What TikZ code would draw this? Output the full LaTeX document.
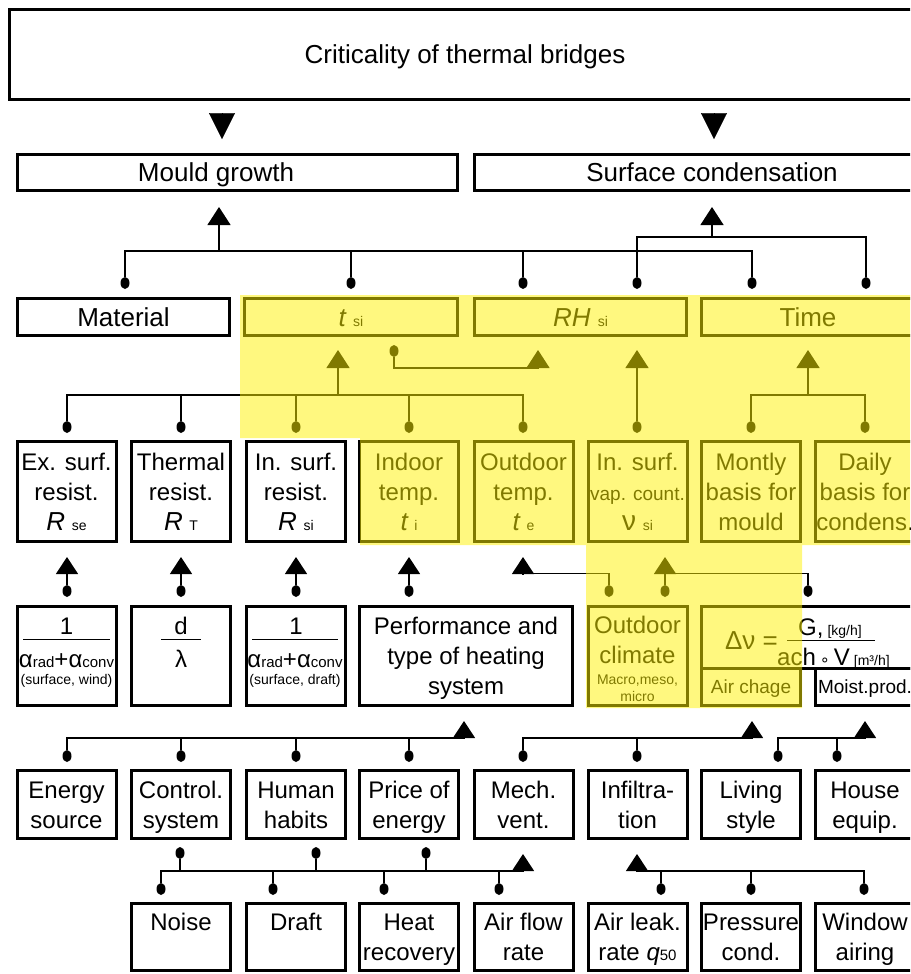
\documentclass[tikz,border=0pt]{standalone}
\usepackage{fontspec}
\setmainfont{Liberation Sans}
\newfontfamily\dvs{DejaVu Sans}
\usetikzlibrary{arrows.meta,shapes.geometric,calc}
\newcommand\fz[2]{\fontsize{#1}{#2}\selectfont}
\newcommand\Ls{\rule[-6.4pt]{0pt}{30pt}}
\newcommand\Lss{\rule[-3.5pt]{0pt}{17pt}}
\newcommand\sml[1]{{\fz{14}{14}#1}}
\newcommand\smb[1]{{\fz{15}{15}#1}}
\tikzset{
 bx/.style={draw, line width=3pt, inner sep=0pt, outer sep=0pt, align=center, font=\fz{24}{30}},
 t26/.style={font=\fz{26}{30}, text height=18.6pt, text depth=0pt},
 t19/.style={font=\fz{19}{22}, text height=13.6pt, text depth=0pt},
 tx24/.style={font=\fz{24}{30}, text height=17.2pt, text depth=0pt, inner sep=0pt},
 tx14/.style={font=\fz{14}{17}, inner sep=0pt, align=center},
 conn/.style={line width=1.3pt},
 rulel/.style={line width=1pt},
 dotn/.style={ellipse, fill=black, inner sep=0pt, outer sep=0pt, minimum width=9pt, minimum height=12pt},
 arrS/.style={-{Triangle[width=22pt,length=17pt]}},
 arrM/.style={-{Triangle[width=23pt,length=18pt]}},
 arrL/.style={-{Triangle[width=26pt,length=26pt]}},
}
\begin{document}
\begin{tikzpicture}[x=1pt,y=-1pt]
\path[use as bounding box] (0,0) rectangle (910,974);
\clip (0,0) rectangle (910,974);
\fill[white] (0,0) rectangle (910,974);

% ---------- top and row 1
\node[bx, t26, minimum width=911pt, minimum height=90pt] (top) at (465,54.5) {Criticality of thermal bridges};
\node[bx, line width=2.7pt, minimum width=440pt, minimum height=36.3pt] (mould) at (237.5,172.5) {};
\node[t26] (mouldt) at (216,172.5) {Mould growth};
\node[bx, t26, line width=2.7pt, minimum width=475pt, minimum height=36.3pt] (surf) at (712,172.5) {Surface condensation};

\coordinate (tA) at (222,0);
\coordinate (tB) at (714,0);
\draw[arrL, shorten <=13.5pt, shorten >=15.3pt] (top.south -| tA) -- (mould.north -| tA);
\draw[arrL, shorten <=13.5pt, shorten >=15.3pt] (top.south -| tB) -- (surf.north -| tB);

% ---------- row 2
\node[bx, t26, minimum width=212pt, minimum height=37pt] (mat) at (123.5,317) {Material};
\node[bx, t26, minimum width=213pt, minimum height=37pt] (tsi) at (351,317) {{\itshape t} \sml{si}};
\node[bx, t26, minimum width=212pt, minimum height=37pt] (rh) at (580.5,317) {{\itshape RH} \sml{si}};
\node[bx, t26, minimum width=213pt, minimum height=37pt] (time) at (808,317) {Time};

% ---------- row 4
\node[bx, minimum width=99pt, minimum height=100pt] (exs) at (66.5,491.5) {\Ls Ex. surf.\\\Ls resist.\\\Ls{\fz{26}{30}\itshape R} \sml{se}};
\node[bx, minimum width=99pt, minimum height=100pt] (thr) at (181,491.5) {\Ls Thermal\\\Ls resist.\\\Ls{\fz{26}{30}\itshape R} \sml{T}};
\node[bx, minimum width=99pt, minimum height=100pt] (ins) at (296,491.5) {\Ls In. surf.\\\Ls resist.\\\Ls{\fz{26}{30}\itshape R} \sml{si}};
\node[bx, minimum width=99pt, minimum height=100pt] (indt) at (409,491.5) {\Ls Indoor\\\Ls temp.\\\Ls{\fz{26}{30}\itshape t} \sml{i}};
\node[bx, minimum width=99pt, minimum height=100pt] (outt) at (523.5,491.5) {\Ls Outdoor\\\Ls temp.\\\Ls{\fz{26}{30}\itshape t} \sml{e}};
\node[bx, minimum width=99pt, minimum height=100pt] (nusi) at (637.5,491.5) {\Ls In. surf.\\\Ls{\fz{19}{30}vap. count.}\\\Ls{\fz{28}{30}ν} \sml{si}};
\node[bx, minimum width=99pt, minimum height=100pt] (mont) at (751,491.5) {\Ls Montly\\\Ls basis for\\\Ls mould};
\node[bx, minimum width=99pt, minimum height=100pt] (daily) at (865,491.5) {\Ls Daily\\\Ls basis for\\\Ls condens.};

% ---------- row 5
\node[bx, minimum width=99pt, minimum height=99pt] (f1) at (66.5,656) {};
\node[tx24] (f1n) at (66.5,626) {1};
\draw[rulel] (23,639) -- (110,639);
\node[tx24] (f1d) at (66.5,659) {α\smb{rad}+α\smb{conv}};
\node[tx14] (f1s) at (66.5,681) {(surface, wind)};

\node[bx, minimum width=99pt, minimum height=99pt] (f2) at (181,656) {};
\node[tx24] (f2n) at (181,626) {d};
\draw[rulel] (161,639) -- (201,639);
\node[tx24] (f2d) at (181,659) {λ};

\node[bx, minimum width=99pt, minimum height=99pt] (f3) at (296,656) {};
\node[tx24] (f3n) at (296,626) {1};
\draw[rulel] (252,639) -- (338,639);
\node[tx24] (f3d) at (295,659) {α\smb{rad}+α\smb{conv}};
\node[tx14] (f3s) at (295,681) {(surface, draft)};

\node[bx, minimum width=213pt, minimum height=99pt] (perf) at (466,656) {\Ls Performance and\\\Ls type of heating\\\Ls system};

\node[bx, minimum width=99pt, minimum height=99pt] (ocl) at (637.5,656) {};
\node[font=\fz{24}{30}, align=center, inner sep=0pt] (oclt) at (637.5,640) {\Ls Outdoor\\\Ls climate};
\node[tx14] (ocls) at (637.5,687.5) {\Lss Macro,meso,\\\Lss micro};

\node[bx, minimum width=213pt, minimum height=62pt] (dv) at (808,637.5) {};
\node[t26, inner sep=0pt] (dvl) at (751.5,640) {Δν =};
\draw[rulel] (787,640) -- (875,640);
\node[anchor=base west, font=\fz{24}{30}, inner sep=0pt] (dvn) at (798,635.6) {G,\,\sml{[kg/h]}};
\node[anchor=base west, font=\fz{24}{30}, inner sep=0pt] (dvd) at (777,665.6) {ach\,{\dvs\fz{16}{16}∘}\,V\,\sml{[m³/h]}};
\node[bx, t19, minimum width=99pt, minimum height=37pt] (ac) at (751,687) {Air chage};
\node[bx, t19, minimum width=99pt, minimum height=37pt] (mp) at (865,687) {Moist.prod.};

% ---------- row 6
\node[bx, minimum width=99pt, minimum height=68pt] (ener) at (66.5,804.5) {\Ls Energy\\\Ls source};
\node[bx, minimum width=99pt, minimum height=68pt] (ctrl) at (181,804.5) {\Ls Control.\\\Ls system};
\node[bx, minimum width=99pt, minimum height=68pt] (hum) at (296,804.5) {\Ls Human\\\Ls habits};
\node[bx, minimum width=99pt, minimum height=68pt] (price) at (409,804.5) {\Ls Price of\\\Ls energy};
\node[bx, minimum width=99pt, minimum height=68pt] (mech) at (523.5,804.5) {\Ls Mech.\\\Ls vent.};
\node[bx, minimum width=99pt, minimum height=68pt] (infil) at (637.5,804.5) {\Ls Infiltra-\\\Ls tion};
\node[bx, minimum width=99pt, minimum height=68pt] (liv) at (751,804.5) {\Ls Living\\\Ls style};
\node[bx, minimum width=99pt, minimum height=68pt] (house) at (865,804.5) {\Ls House\\\Ls equip.};

% ---------- row 7
\node[bx, minimum width=99pt, minimum height=67pt] (noise) at (181,937) {\Ls Noise\\\Ls};
\node[bx, minimum width=99pt, minimum height=67pt] (draft) at (296,937) {\Ls Draft\\\Ls};
\node[bx, minimum width=99pt, minimum height=67pt] (heat) at (409,937) {\Ls Heat\\\Ls recovery};
\node[bx, minimum width=99pt, minimum height=67pt] (afr) at (523.5,937) {\Ls Air flow\\\Ls rate};
\node[bx, minimum width=99pt, minimum height=67pt] (alr) at (637.5,937) {\Ls Air leak.\\\Ls rate {\itshape q}\smb{50}};
\node[bx, minimum width=99pt, minimum height=67pt] (pres) at (751,937) {\Ls Pressure\\\Ls cond.};
\node[bx, minimum width=99pt, minimum height=67pt] (win) at (865,937) {\Ls Window\\\Ls airing};

% ---------- dots
\foreach \n/\x/\y in {m1/125/283, m2/351/283, m3/523/283, m4/752/283, s1/637/283, s2/866/283,
  q1/394/351,
  a1/67/427, a2/181/427, a3/296/427, a4/409/427, a5/523/427, a6/637/427, a7/751/427, a8/865/427,
  b1/67/591, b2/181/591, b3/296/591, b4/409/591, b5/609/591, b6/665/591, b7/808/591,
  c1/67/756, c2/181/756, c3/296/756, c4/409/756, c5/523/756, c6/637/756, c7/778/756, c8/837/756,
  e1/180/853, e2/316/853, e3/426/853,
  g1/161/889, g2/273/889, g3/384/889, g4/499/889, g5/661/889, g6/751/889, g7/864/889}
  \node[dotn] (\n) at (\x,\y) {};

% ---------- connectors to row 1
\coordinate (mgb) at (219,251); \coordinate (mgt) at (219,207);
\draw[conn] (m1) |- (mgb) -| (m4);
\draw[conn] (m2) -- (m2 |- mgb);
\draw[conn] (m3) -- (m3 |- mgb);
\draw[conn, arrM] (mgb) -- (mgt);
\coordinate (scb) at (712,237); \coordinate (sct) at (712,207);
\draw[conn] (s1) |- (scb) -| (s2);
\draw[conn, arrM] (scb) -- (sct);

% ---------- connectors to row 2
\coordinate (tsb) at (338,395); \coordinate (tst) at (338,350);
\draw[conn] (a1) |- (tsb) -| (a5);
\foreach \d in {a2,a3,a4} \draw[conn] (\d) -- (\d |- tsb);
\draw[conn, arrM] (tsb) -- (tst);
\coordinate (rhb) at (538,368); \coordinate (rht) at (538,350);
\draw[conn] (q1) |- (rhb);
\draw[conn, arrM] (rhb) -- (rht);
\coordinate (rht2) at (637,350);
\draw[conn, arrM] (a6) -- (rht2);
\coordinate (tmb) at (808,395); \coordinate (tmt) at (808,350);
\draw[conn] (a7) |- (tmb) -| (a8);
\draw[conn, arrM] (tmb) -- (tmt);

% ---------- connectors to row 4
\foreach \d in {b1,b2,b3,b4} \draw[conn, arrS] (\d) -- ($(\d)+(0,-34)$);
\coordinate (otb) at (523,573.5); \coordinate (ott) at (523,557);
\draw[conn] (b5) |- (otb);
\draw[conn, arrS] (otb) -- (ott);
\coordinate (nub) at (665,573.5); \coordinate (nut) at (665,557);
\draw[conn, arrS] (b6) -- (nut);
\draw[conn] (b7) |- (nub);

% ---------- connectors to row 5
\coordinate (pfb) at (464,738); \coordinate (pft) at (464,721);
\draw[conn] (c1) |- (pfb);
\foreach \d in {c2,c3,c4} \draw[conn] (\d) -- (\d |- pfb);
\draw[conn, arrS] (pfb) -- (pft);
\coordinate (acb) at (752,738); \coordinate (act) at (752,721);
\draw[conn] (c5) |- (acb);
\draw[conn] (c6) -- (c6 |- acb);
\draw[conn, arrS] (acb) -- (act);
\coordinate (mpb) at (865,738); \coordinate (mpt) at (865,721);
\draw[conn] (c7) |- (mpb);
\draw[conn] (c8) -- (c8 |- mpb);
\draw[conn, arrS] (mpb) -- (mpt);

% ---------- connectors to row 6
\coordinate (mvb) at (523,871); \coordinate (mvt) at (523,854);
\draw[conn] (g1) |- (mvb);
\foreach \d in {e1,e2,e3,g2,g3,g4} \draw[conn] (\d) -- (\d |- mvb);
\draw[conn, arrS] (mvb) -- (mvt);
\coordinate (ifb) at (637,871); \coordinate (ift) at (637,854);
\draw[conn] (g7) |- (ifb);
\foreach \d in {g5,g6} \draw[conn] (\d) -- (\d |- ifb);
\draw[conn, arrS] (ifb) -- (ift);

% ---------- yellow highlight
\fill[yellow, opacity=0.5] (240,295) -- (915,295) -- (915,545) -- (802,545) -- (802,708) -- (586,708) -- (586,545) -- (360,545) -- (360,438) -- (240,438) -- cycle;
\end{tikzpicture}
\end{document}
